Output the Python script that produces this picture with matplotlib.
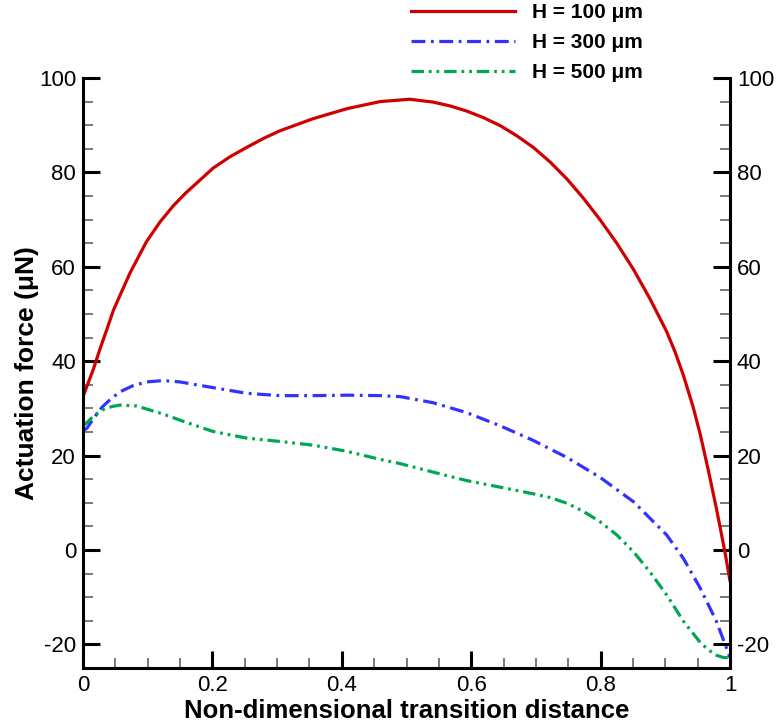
import numpy as np
import matplotlib.pyplot as plt
from matplotlib.ticker import MultipleLocator

plt.rcParams['font.family'] = ['Liberation Sans', 'DejaVu Sans']
plt.rcParams['lines.scale_dashes'] = False
plt.rcParams['axes.unicode_minus'] = False

# H = 100 um
x_100 = [0.0, 0.016, 0.026, 0.037, 0.047, 0.057, 0.073, 0.098, 0.119, 0.140, 0.160,
         0.181, 0.201, 0.227, 0.253, 0.279, 0.304, 0.356, 0.408, 0.459, 0.505,
         0.541, 0.567, 0.593, 0.619, 0.645, 0.670, 0.696, 0.722, 0.748, 0.773,
         0.799, 0.825, 0.851, 0.876, 0.902, 0.915, 0.928, 0.943, 0.954, 0.966,
         0.979, 0.992, 1.0]
f_100 = [32.5, 38.3, 42.5, 46.8, 50.8, 53.9, 58.8, 65.3, 69.5, 73.0, 75.8,
         78.4, 80.9, 83.3, 85.3, 87.2, 88.8, 91.4, 93.5, 95.0, 95.5,
         94.9, 94.1, 93.0, 91.6, 89.9, 87.8, 85.3, 82.2, 78.6, 74.6,
         70.0, 65.0, 59.4, 53.3, 46.3, 42.0, 37.0, 30.3, 24.5, 17.2,
         8.8, -0.3, -6.5]

# H = 300 um
x_300 = [0.0, 0.006, 0.018, 0.029, 0.043, 0.057, 0.077, 0.098, 0.124, 0.150, 0.175,
         0.201, 0.253, 0.304, 0.356, 0.408, 0.459, 0.490, 0.541, 0.593, 0.645,
         0.696, 0.748, 0.799, 0.851, 0.902, 0.928, 0.954, 0.979, 1.0]
f_300 = [25.2, 25.8, 28.2, 30.2, 32.0, 33.5, 34.8, 35.6, 35.9, 35.6, 35.0,
         34.4, 33.2, 32.7, 32.7, 32.8, 32.7, 32.5, 31.2, 29.1, 26.3,
         23.2, 19.6, 15.4, 10.2, 3.2, -1.8, -8.1, -15.1, -22.8]

# H = 500 um
x_500 = [0.0, 0.006, 0.018, 0.032, 0.045, 0.057, 0.083, 0.124, 0.150, 0.201, 0.253,
         0.304, 0.356, 0.408, 0.459, 0.490, 0.541, 0.593, 0.645, 0.696, 0.722,
         0.748, 0.773, 0.799, 0.825, 0.851, 0.876, 0.902, 0.928, 0.954, 0.967,
         0.979, 0.990, 1.0]
f_500 = [26.3, 27.0, 28.6, 29.8, 30.4, 30.7, 30.5, 28.8, 27.5, 25.1, 23.7,
         23.0, 22.2, 20.9, 19.2, 18.3, 16.5, 14.7, 13.3, 11.9, 11.1,
         9.9, 8.2, 6.0, 3.2, -0.4, -4.6, -9.5, -15.1, -19.6, -21.2,
         -22.3, -22.8, -22.8]

labels = ['H = 100 \u03bcm', 'H = 300 \u03bcm', 'H = 500 \u03bcm']

fig = plt.figure(figsize=(7.81, 7.27), dpi=100)
ax = fig.add_axes([0.1063, 0.0812, 0.8284, 0.8115])

ax.plot(x_100, f_100, color='#d00000', lw=2.3, label=labels[0])
ax.plot(x_300, f_300, color='#3232ff', lw=2.3, dashes=[10, 4, 2, 4], label=labels[1])
ax.plot(x_500, f_500, color='#00a651', lw=2.3, dashes=[9, 3.5, 2, 3.5, 2, 3.5], label=labels[2])

ax.set_xlim(0, 1)
ax.set_ylim(-25, 100)
ax.xaxis.set_major_locator(MultipleLocator(0.2))
ax.xaxis.set_minor_locator(MultipleLocator(0.05))
ax.yaxis.set_major_locator(MultipleLocator(20))
ax.yaxis.set_minor_locator(MultipleLocator(5))
ax.xaxis.set_major_formatter(plt.FuncFormatter(lambda v, p: '%g' % round(v, 2)))

ax.spines['top'].set_visible(False)
for s in ['left', 'bottom', 'right']:
    ax.spines[s].set_linewidth(2.2)

ax.tick_params(which='major', direction='in', length=12, width=2.2, labelsize=16,
               right=True, labelright=True, pad=5)
ax.tick_params(which='minor', direction='in', length=7, width=1.1, color='#555555',
               right=True)

ax.set_xlabel('Non-dimensional transition distance', fontsize=18.5, fontweight='bold')
ax.xaxis.set_label_coords(0.5, -0.052)
ax.set_ylabel('Actuation force (\u03bcN)', fontsize=19, fontweight='bold')
ax.yaxis.set_label_coords(-0.068, 0.5)

leg = fig.legend(loc='upper left', bbox_to_anchor=(0.502, 1.021), frameon=False,
                 handlelength=5.0, handletextpad=0.8, labelspacing=0.52,
                 prop={'weight': 'bold', 'size': 15})

plt.savefig('out.png', dpi=100)
